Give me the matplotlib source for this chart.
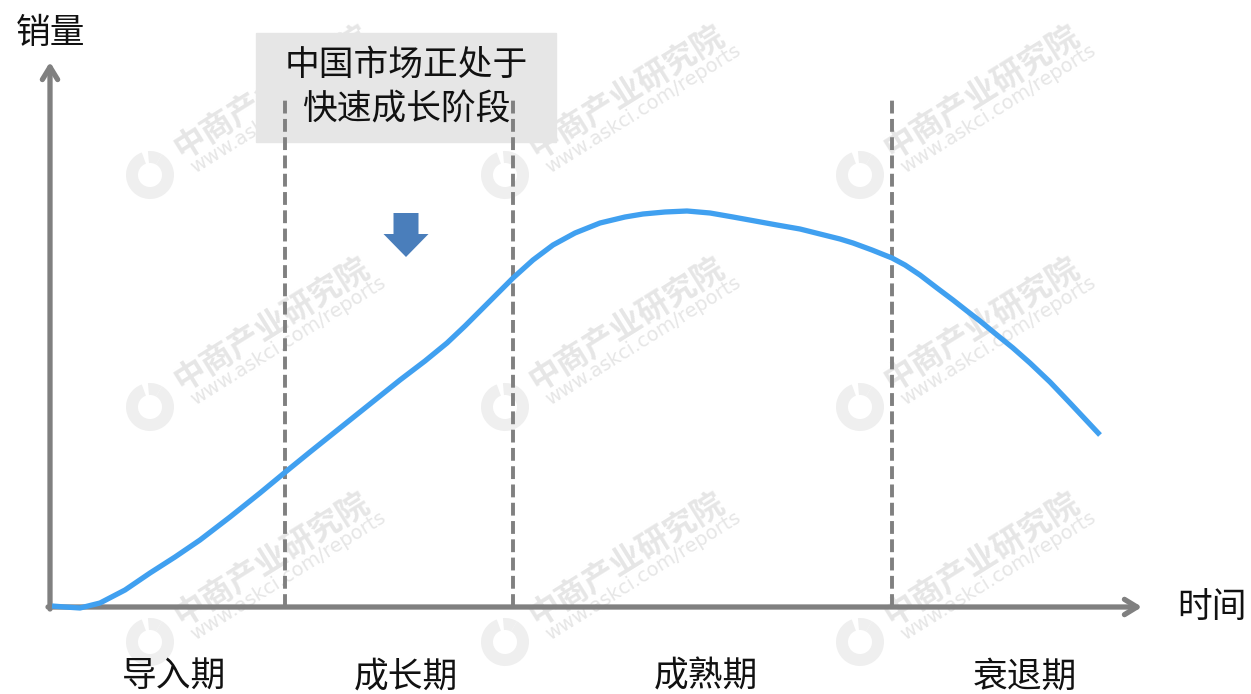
import matplotlib.pyplot as plt
from matplotlib.patches import Rectangle, FancyArrow, Wedge

plt.rcParams['font.family'] = ['Noto Sans CJK SC', 'DejaVu Sans']

# 产品生命周期曲线 (时间, 销量)
time_vals = [2, 15, 30, 50, 75, 100, 125, 150, 180, 210, 233, 260, 290, 320, 350,
             375, 397, 415, 430, 447, 463, 483, 503, 525, 550, 575, 593, 615, 637,
             660, 683, 705, 727, 750, 770, 790, 803, 822, 842, 855, 870, 887, 903,
             917, 930, 947, 963, 980, 1000, 1020, 1035, 1050]
sales_vals = [1, 0, -1, 4, 17, 34, 50, 67, 90, 114, 133, 155, 179, 203, 227,
              246, 264, 281, 296, 313, 329, 347, 362, 374, 384, 390, 393, 395, 396,
              394, 390, 386, 382, 378, 373, 368, 364, 357, 349, 342, 332, 319, 307,
              296, 286, 272, 259, 244, 225, 204, 188, 172]

phase_names = ["导入期", "成长期", "成熟期", "衰退期"]
phase_centers = [124, 356, 656, 975]
phase_bounds = [235, 463, 842]

axis_color = "#808080"
curve_color = "#40A0F0"
wm_color = "#e6e6e6"

fig = plt.figure(figsize=(12.51, 6.94), dpi=100)
ax = fig.add_axes([0, 0, 1, 1])
ax.set_xlim(-50, 1201)
ax.set_ylim(-87, 607)
ax.axis("off")

# 水印
for lx in [100, 455, 810]:
    for ly in [432, 200, -35]:
        ax.add_patch(Wedge((lx, ly), 24, 110, 420, width=12, color="#efefef", lw=0, zorder=0))
        ax.add_patch(Wedge((lx, ly), 24, 60, 95, width=12, color="#efefef", lw=0, zorder=0))
        ax.text(lx + 122, ly + 83, "中商产业研究院", rotation=32, ha="center", va="center",
                fontsize=23, fontweight="bold", color=wm_color, zorder=0)
        ax.text(lx + 138, ly + 66, "www.askci.com/reports", rotation=32, ha="center",
                va="center", fontsize=14, family="DejaVu Sans", color=wm_color, zorder=0)

# 坐标轴箭头
ax.annotate("", xy=(0, 545), xytext=(0, -2),
            arrowprops=dict(arrowstyle="->,head_length=0.9,head_width=0.55",
                            color=axis_color, lw=3.8, shrinkA=0, shrinkB=0))
ax.annotate("", xy=(1092, 0), xytext=(-2, 0),
            arrowprops=dict(arrowstyle="->,head_length=0.9,head_width=0.55",
                            color=axis_color, lw=3.8, shrinkA=0, shrinkB=0))

# 阶段分隔线
for b in phase_bounds:
    ax.plot([b, b], [0, 507], color=axis_color, lw=2.8, ls=(0, (3.3, 1.4)), zorder=2)

# 文字框
ax.add_patch(Rectangle((206, 465), 300, 109, color="#e6e6e6", zorder=1))
ax.text(356, 542, "中国市场正处于", ha="center", va="center", fontsize=25, color="#111111", zorder=3)
ax.text(356, 497, "快速成长阶段", ha="center", va="center", fontsize=25, color="#111111", zorder=3)

# 下箭头
ax.add_patch(FancyArrow(356, 394, 0, -44, width=25, head_width=45, head_length=23,
                        length_includes_head=True, color="#4a7ebb", lw=0, zorder=3))

# 曲线
ax.plot(time_vals, sales_vals, color=curve_color, lw=3.8, solid_capstyle="butt",
        solid_joinstyle="round", zorder=3)

# 标签
ax.text(0, 574, "销量", ha="center", va="center", fontsize=25, color="#111111")
ax.text(1162, 0, "时间", ha="center", va="center", fontsize=25, color="#111111")
for name, c in zip(phase_names, phase_centers):
    ax.text(c, -70, name, ha="center", va="center", fontsize=25, color="#111111")

fig.savefig("out.png", dpi=100)
